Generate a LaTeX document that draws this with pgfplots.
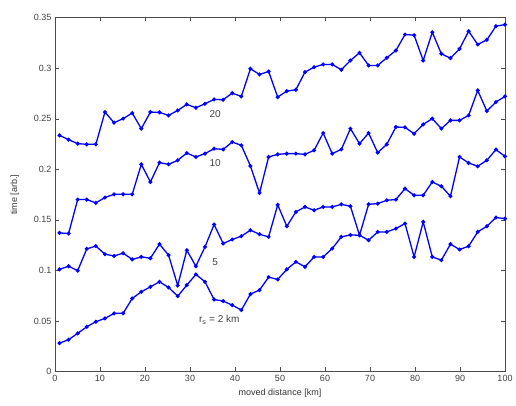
\documentclass[border=0pt]{standalone}
\usepackage{fontspec}
\setmainfont{Liberation Sans}
\usepackage{pgfplots}
\usepackage{pgfplotstable}
\pgfplotsset{compat=1.18}
\pgfplotstableread{
x s2 s5 s10 s20
1 0.0280 0.1010 0.1370 0.2335
3.02 0.0315 0.1041 0.1364 0.2292
5.04 0.0377 0.0997 0.1700 0.2253
7.06 0.0442 0.1212 0.1700 0.2246
9.08 0.0492 0.1240 0.1667 0.2246
11.10 0.0525 0.1160 0.1720 0.2565
13.12 0.0574 0.1142 0.1752 0.2460
15.14 0.0576 0.1170 0.1752 0.2500
17.16 0.0722 0.1108 0.1752 0.2555
19.18 0.0788 0.1133 0.2048 0.2401
21.20 0.0837 0.1120 0.1874 0.2565
23.22 0.0887 0.1259 0.2065 0.2562
25.24 0.0831 0.1150 0.2048 0.2532
27.27 0.0745 0.0850 0.2088 0.2581
29.29 0.0854 0.1199 0.2160 0.2641
31.31 0.0960 0.1041 0.2121 0.2608
33.33 0.0887 0.1232 0.2154 0.2647
35.35 0.0712 0.1453 0.2203 0.2690
37.37 0.0696 0.1266 0.2196 0.2687
39.39 0.0656 0.1305 0.2269 0.2752
41.41 0.0607 0.1338 0.2236 0.2720
43.43 0.0765 0.1397 0.2032 0.2993
45.45 0.0805 0.1357 0.1765 0.2937
47.47 0.0933 0.1331 0.2121 0.2966
49.49 0.0910 0.1648 0.2147 0.2713
51.51 0.1010 0.1436 0.2154 0.2772
53.53 0.1084 0.1578 0.2154 0.2786
55.55 0.1035 0.1627 0.2147 0.2960
57.57 0.1133 0.1594 0.2187 0.3009
59.59 0.1133 0.1627 0.2357 0.3036
61.61 0.1216 0.1627 0.2154 0.3036
63.63 0.1331 0.1653 0.2196 0.2983
65.65 0.1350 0.1634 0.2401 0.3075
67.67 0.1347 0.1347 0.2253 0.3151
69.69 0.1298 0.1653 0.2357 0.3026
71.71 0.1380 0.1660 0.2164 0.3026
73.73 0.1380 0.1693 0.2246 0.3102
75.76 0.1413 0.1700 0.2417 0.3174
77.78 0.1463 0.1808 0.2414 0.3332
79.80 0.1133 0.1742 0.2351 0.3325
81.82 0.1479 0.1742 0.2443 0.3075
83.84 0.1133 0.1874 0.2500 0.3354
85.86 0.1101 0.1831 0.2401 0.3141
87.88 0.1259 0.1733 0.2483 0.3098
89.90 0.1206 0.2121 0.2483 0.3190
91.92 0.1239 0.2062 0.2532 0.3364
93.94 0.1380 0.2029 0.2779 0.3233
95.96 0.1436 0.2088 0.2575 0.3279
97.98 0.1522 0.2194 0.2664 0.3414
100 0.1512 0.2127 0.2720 0.3430
}\datatable
\begin{document}
\begin{tikzpicture}
\begin{axis}[
  scale only axis,
  width=450pt, height=354pt,
  xmin=0, xmax=100, ymin=0, ymax=0.35,
  xtick={0,10,...,100},
  ytick={0,0.05,0.1,0.15,0.2,0.25,0.3,0.35},
  yticklabels={0,0.05,0.1,0.15,0.2,0.25,0.3,0.35},
  tick align=inside,
  major tick length=4pt,
  axis line style={black!70},
  tick style={black!70},
  tick label style={font=\fontsize{9}{10}\selectfont, text=black!75},
  label style={font=\fontsize{9}{10}\selectfont, text=black!80},
  /pgf/number format/assume math mode=true,
  xlabel={moved distance [km]},
  ylabel={time [arb.]},
  xlabel style={yshift=-1pt},
  ylabel style={yshift=8pt},
]
\addplot[blue, line width=1.3pt, mark=*, mark size=1.3pt] table[x=x, y=s2] {\datatable};
\addplot[blue, line width=1.3pt, mark=*, mark size=1.3pt] table[x=x, y=s5] {\datatable};
\addplot[blue, line width=1.3pt, mark=*, mark size=1.3pt] table[x=x, y=s10] {\datatable};
\addplot[blue, line width=1.3pt, mark=*, mark size=1.3pt] table[x=x, y=s20] {\datatable};
\node[font=\fontsize{10}{11}\selectfont, text=black!75] at (axis cs:35.6,0.255) {20};
\node[font=\fontsize{10}{11}\selectfont, text=black!75] at (axis cs:35.6,0.206) {10};
\node[font=\fontsize{10}{11}\selectfont, text=black!75] at (axis cs:35.6,0.108) {5};
\node[font=\fontsize{10}{11}\selectfont, text=black!75] at (axis cs:36.5,0.051) {r\textsubscript{s} = 2 km};
\end{axis}
\pgfresetboundingbox
\path[use as bounding box] ([shift={(-55pt,-34.5pt)}]current axis.south west) rectangle ([shift={(11pt,17.5pt)}]current axis.north east);
\end{tikzpicture}
\end{document}
